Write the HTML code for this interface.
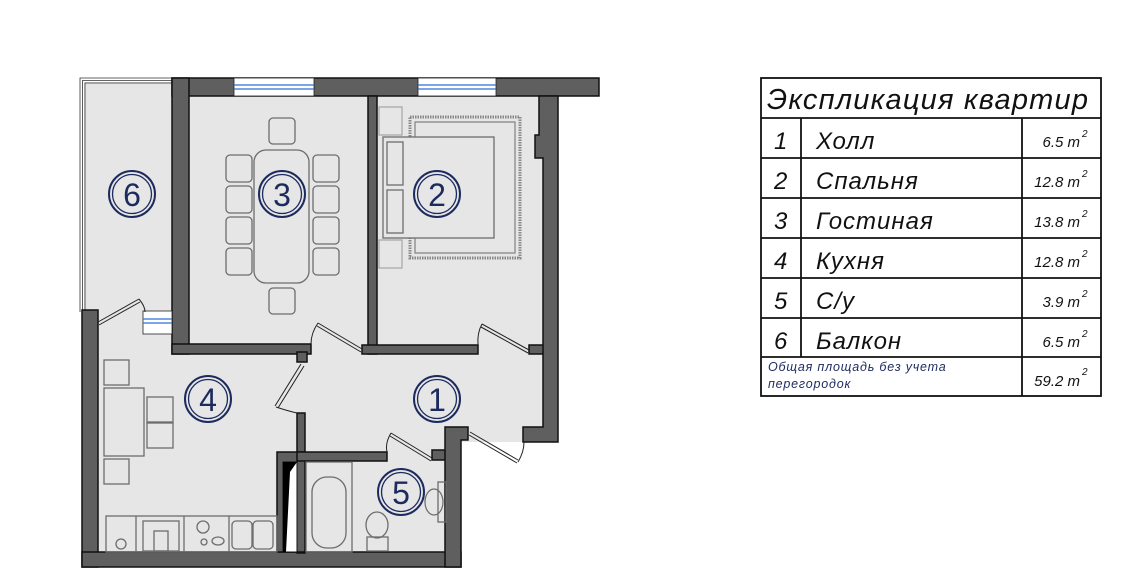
<!DOCTYPE html>
<html><head><meta charset="utf-8"><style>
html,body{margin:0;padding:0;background:#fff}
svg{display:block}
text{font-family:"Liberation Sans","DejaVu Sans",sans-serif}
</style></head><body>
<svg width="1126" height="584" viewBox="0 0 1126 584" xmlns="http://www.w3.org/2000/svg">
<!-- floors -->
<g fill="#e6e6e6">
<rect x="84" y="82" width="90" height="230"/>
<rect x="98" y="310" width="200" height="245"/>
<rect x="189" y="96" width="180" height="250"/>
<rect x="377" y="96" width="168" height="250"/>
<rect x="298" y="340" width="246" height="102"/>
<rect x="298" y="440" width="148" height="115"/>
<rect x="440" y="420" width="90" height="22"/>
</g>
<!-- balcony frame -->
<g fill="none" stroke="#333" stroke-width="0.8">
<path d="M80 312 V78 H172"/><path d="M82.5 312 V80.5 H172"/><path d="M85 312 V83 H172"/>
</g>
<!-- walls -->
<g fill="#5f5f60" stroke="#111" stroke-width="1.5">
<rect x="172" y="78" width="427" height="18"/>
<rect x="172" y="78" width="17" height="276"/>
<rect x="172" y="344" width="139" height="10"/>
<rect x="297" y="352" width="10" height="10"/>
<rect x="368" y="96" width="9" height="258"/>
<rect x="362" y="345" width="116" height="9"/>
<rect x="529" y="345" width="16" height="9"/>
<path d="M539 96 H558 V442 H523 V427 H543 V158 H535 V135 H539 Z"/>
<rect x="82" y="310" width="16" height="257"/>
<rect x="82" y="552" width="379" height="15"/>
<rect x="297" y="413" width="8" height="140"/>
<rect x="277" y="452" width="28" height="100"/>
<rect x="297" y="452" width="90" height="9"/>
<rect x="432" y="450" width="14" height="10"/>
<path d="M445 427 H468 V440 H461 V567 H445 Z"/>
</g>
<!-- shaft -->
<rect x="283" y="462" width="14" height="90" fill="#fff" stroke="#111"/>
<polygon points="283,462 297,462 290,472 286,552 283,552" fill="#000"/>
<!-- windows -->
<g>
<rect x="234" y="78" width="80" height="18" fill="#fff" stroke="#222" stroke-width="0.8"/>
<line x1="234" y1="85" x2="314" y2="85" stroke="#2a6fd6" stroke-width="1.2"/>
<line x1="234" y1="89" x2="314" y2="89" stroke="#2a6fd6" stroke-width="1.2"/>
<rect x="418" y="78" width="78" height="18" fill="#fff" stroke="#222" stroke-width="0.8"/>
<line x1="418" y1="85" x2="496" y2="85" stroke="#2a6fd6" stroke-width="1.2"/>
<line x1="418" y1="89" x2="496" y2="89" stroke="#2a6fd6" stroke-width="1.2"/>
<rect x="143" y="311" width="29" height="23" fill="#fff" stroke="#222" stroke-width="0.8"/>
<line x1="143" y1="319" x2="172" y2="319" stroke="#2a6fd6" stroke-width="1.2"/>
<line x1="143" y1="323" x2="172" y2="323" stroke="#2a6fd6" stroke-width="1.2"/>
</g>
<!-- doors -->
<g fill="none" stroke="#222" stroke-width="1">
<path d="M98 322 L139 299 M99 325 L140 302"/>
<path d="M139 299 Q145 306 145 312"/>
<path d="M318 323 L362 349 M317 326 L361 352"/>
<path d="M318 323 Q311 333 311 344"/>
<path d="M301 364 L275 406 M304 366 L278 408"/>
<path d="M276 407 Q288 411 297 413"/>
<path d="M391 433 L432 458 M390 436 L431 461"/>
<path d="M391 433 Q385 443 387 452"/>
<path d="M482 324 L529 350 M481 327 L528 353"/>
<path d="M482 324 Q477 333 478 345"/>
<path d="M470 432 L518 460 M469 435 L517 463"/>
<path d="M518 462 Q524 452 524 442"/>
</g>
<!-- furniture -->
<g fill="none" stroke="#6d6d6d" stroke-width="1.3">
<rect x="254" y="150" width="55" height="133" rx="12"/>
<rect x="226" y="155" width="26" height="27" rx="4"/><rect x="226" y="186" width="26" height="27" rx="4"/>
<rect x="226" y="217" width="26" height="27" rx="4"/><rect x="226" y="248" width="26" height="27" rx="4"/>
<rect x="313" y="155" width="26" height="27" rx="4"/><rect x="313" y="186" width="26" height="27" rx="4"/>
<rect x="313" y="217" width="26" height="27" rx="4"/><rect x="313" y="248" width="26" height="27" rx="4"/>
<rect x="269" y="118" width="26" height="26" rx="4"/><rect x="269" y="288" width="26" height="26" rx="4"/>
<rect x="410" y="117" width="110" height="141" stroke="#888" stroke-width="3" stroke-dasharray="1.5 1"/>
<rect x="415" y="122" width="100" height="131" stroke="#888"/>
<rect x="383" y="137" width="111" height="101" fill="#e6e6e6"/>
<rect x="387" y="142" width="16" height="43"/><rect x="387" y="190" width="16" height="43"/>
<rect x="379" y="107" width="23" height="28" stroke="#aaa"/><rect x="379" y="240" width="23" height="28" stroke="#aaa"/>
<rect x="104" y="360" width="25" height="25"/><rect x="104" y="388" width="40" height="68"/>
<rect x="147" y="397" width="26" height="25"/><rect x="147" y="423" width="26" height="25"/>
<rect x="104" y="459" width="25" height="25"/>
<rect x="106" y="516" width="171" height="36"/>
<line x1="136" y1="516" x2="136" y2="552"/><line x1="184" y1="516" x2="184" y2="552"/><line x1="229" y1="516" x2="229" y2="552"/>
<rect x="143" y="521" width="36" height="30"/><rect x="154" y="531" width="14" height="20"/>
<rect x="232" y="521" width="20" height="28" rx="4"/><rect x="253" y="521" width="20" height="28" rx="4"/>
<circle cx="203" cy="527" r="6"/><circle cx="204" cy="542" r="3"/><ellipse cx="218" cy="541" rx="6" ry="4"/>
<circle cx="121" cy="544" r="5"/>
<rect x="306" y="462" width="46" height="90"/>
<rect x="312" y="477" width="34" height="71" rx="15"/>
<ellipse cx="377" cy="525" rx="11" ry="13"/><rect x="367" y="537" width="21" height="14"/>
<rect x="438" y="482" width="8" height="40"/><ellipse cx="434" cy="502" rx="9" ry="13"/>
</g>
<!-- room circles -->
<g fill="none" stroke="#1c2a5e">
<g stroke-width="2">
<circle cx="132" cy="194" r="23"/><circle cx="282" cy="194" r="23"/><circle cx="437" cy="194" r="23"/>
<circle cx="208" cy="399" r="23"/><circle cx="437" cy="399" r="23"/><circle cx="401" cy="492" r="23"/>
</g>
<g stroke-width="1.3">
<circle cx="132" cy="194" r="19.5"/><circle cx="282" cy="194" r="19.5"/><circle cx="437" cy="194" r="19.5"/>
<circle cx="208" cy="399" r="19.5"/><circle cx="437" cy="399" r="19.5"/><circle cx="401" cy="492" r="19.5"/>
</g>
</g>
<g fill="#1c2a5e" font-size="32" text-anchor="middle">
<text x="132" y="206">6</text><text x="282" y="206">3</text><text x="437" y="206">2</text>
<text x="208" y="411">4</text><text x="437" y="411">1</text><text x="401" y="504">5</text>
</g>
<!-- table -->
<g fill="none" stroke="#111" stroke-width="1.8">
<rect x="761" y="78" width="340" height="318"/>
<line x1="761" y1="118" x2="1101" y2="118"/>
<line x1="761" y1="158" x2="1101" y2="158"/>
<line x1="761" y1="198" x2="1101" y2="198"/>
<line x1="761" y1="238" x2="1101" y2="238"/>
<line x1="761" y1="278" x2="1101" y2="278"/>
<line x1="761" y1="318" x2="1101" y2="318"/>
<line x1="761" y1="357" x2="1101" y2="357"/>
<line x1="801" y1="118" x2="801" y2="357"/>
<line x1="1022" y1="118" x2="1022" y2="396"/>
</g>
<g fill="#111" font-style="italic">
<text x="767" y="109" font-size="29" letter-spacing="1.2">Экспликация квартир</text>
<g font-size="24">
<text x="774" y="149">1</text><text x="774" y="189">2</text><text x="774" y="229">3</text>
<text x="774" y="269">4</text><text x="774" y="309">5</text><text x="774" y="349">6</text>
<text x="816" y="149" letter-spacing="1">Холл</text>
<text x="816" y="189" letter-spacing="1">Спальня</text>
<text x="816" y="229" letter-spacing="1">Гостиная</text>
<text x="816" y="269" letter-spacing="1">Кухня</text>
<text x="816" y="309" letter-spacing="1">С/у</text>
<text x="816" y="349" letter-spacing="1">Балкон</text>
</g>
<g font-size="15" text-anchor="end">
<text x="1080" y="147">6.5 m</text><text x="1080" y="187">12.8 m</text><text x="1080" y="227">13.8 m</text>
<text x="1080" y="267">12.8 m</text><text x="1080" y="307">3.9 m</text><text x="1080" y="347">6.5 m</text>
<text x="1080" y="386">59.2 m</text>
</g>
<g font-size="10">
<text x="1082" y="137">2</text><text x="1082" y="177">2</text><text x="1082" y="217">2</text>
<text x="1082" y="257">2</text><text x="1082" y="297">2</text><text x="1082" y="337">2</text>
<text x="1082" y="375">2</text>
</g>
<g font-size="12.5" fill="#1c2a5e" letter-spacing="0.8">
<text x="768" y="371">Общая площадь без учета</text>
<text x="768" y="388">перегородок</text>
</g>
</g>
</svg>
</body></html>
